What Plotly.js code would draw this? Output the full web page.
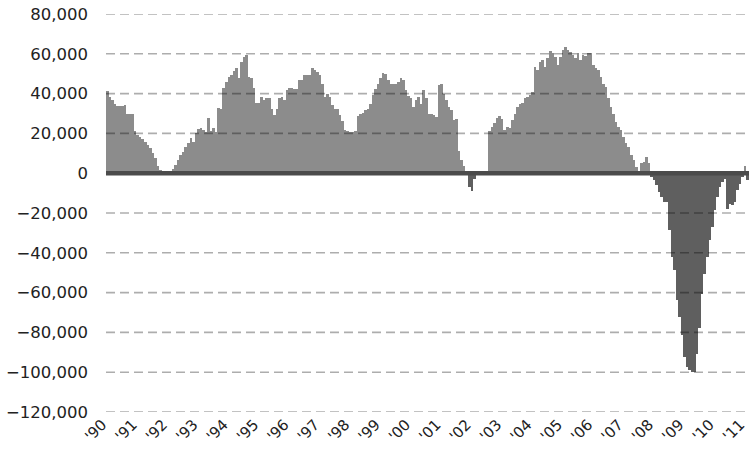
<!DOCTYPE html>
<html>
<head>
<meta charset="utf-8">
<script src="https://cdn.plot.ly/plotly-3.0.1.min.js"></script>
<style>
  html, body { margin: 0; padding: 0; background: #ffffff; overflow: hidden; }
  #chart { width: 749px; height: 456px; }
</style>
</head>
<body>
<div id="chart"></div>
<script>
// Monthly values, January 1990 onward
const monthlyValues = [
  41500, 38500, 37000, 35000, 34000, 34000, 34000, 34500, 30000, 30000, 30000, 21000,
  19000, 18000, 17000, 15500, 14000, 12500, 10000, 7500, 3500, 1500, -1000, 500,
  300, 500, 2000, 4000, 6500, 9000, 10500, 13000, 15000, 17500, 15500, 20000,
  22000, 22500, 21500, 20500, 27500, 21000, 22500, 20500, 33000, 32500, 43000, 46000,
  48500, 49500, 51500, 53000, 47700, 56000, 58500, 59500, 48500, 48000, 43000, 35500,
  35500, 38500, 37000, 38000, 37700, 32500, 29000, 32500, 37700, 38400, 36600, 42000,
  43000, 43000, 42500, 42500, 46800, 46800, 49300, 49300, 49500, 52700, 52000, 51000,
  49300, 45000, 38400, 40000, 38400, 34200, 32500, 32500, 29000, 26000, 21600, 21000,
  20800, 20500, 21000, 28500, 30000, 30500, 32000, 32500, 35000, 39200, 42500, 45000,
  48000, 50500, 50000, 46800, 45000, 45000, 45000, 46000, 48000, 46800, 41800, 39000,
  37700, 33400, 36600, 38400, 35000, 41800, 37700, 30000, 29500, 29000, 28400, 44300,
  45000, 40000, 36700, 33400, 31700, 26600, 27000, 11000, 6500, 3700, 500, -6900,
  -9000, -3000, 300, 800, -500, 800, 300, 21000, 23300, 25000, 27500, 28700,
  27000, 21600, 23300, 22500, 26600, 30000, 33400, 35000, 35400, 37600, 38400, 39200,
  41000, 53500, 51800, 56000, 56900, 53500, 57700, 61500, 60200, 58500, 54400, 58500,
  61900, 63600, 61900, 61000, 59400, 57700, 60200, 56900, 59400, 58900, 60200, 60200,
  54400, 52700, 51800, 48500, 45000, 43400, 37600, 33400, 30000, 25800, 23300, 21600,
  18300, 15000, 13300, 9100, 6500, 3200, 1000, 5200, 5700, 8200, 5000, -1800,
  -3500, -6000, -9400, -12000, -14400, -14400, -28700, -42000, -48800, -63900, -72300, -81500,
  -92400, -97400, -99000, -100000, -100000, -90700, -78000, -60500, -50500, -42000, -33700, -27000,
  -18600, -12000, -7000, -4400, -2700, -17800, -15300, -16000, -14400, -8600, -5200, -1800,
  3500, -3500
];

// Year tick labels (one per January)
const yearLabels = ["'90", "'91", "'92", "'93", "'94", "'95", "'96", "'97", "'98", "'99",
  "'00", "'01", "'02", "'03", "'04", "'05", "'06", "'07", "'08", "'09", "'10", "'11"];

// Y axis tick values
const yTicks = [-120000, -100000, -80000, -60000, -40000, -20000, 0, 20000, 40000, 60000, 80000];

const monthIndex = monthlyValues.map((_, i) => i);
const yearTickPositions = yearLabels.map((_, k) => k * 12);
const barColors = monthlyValues.map(v => v < 0 ? '#5f5f5f' : '#8c8c8c');

const trace = {
  type: 'bar',
  x: monthIndex,
  y: monthlyValues,
  marker: { color: barColors, line: { width: 0 } },
  hoverinfo: 'skip'
};

// dashed gridlines drawn above the bars (semi-transparent, as in the reference)
const gridShapes = yTicks.filter(v => v !== 0).map(v => ({
  type: 'line', xref: 'paper', yref: 'y', x0: 0, x1: 1, y0: v, y1: v,
  layer: 'above',
  line: { color: 'rgba(0,0,0,0.32)', width: 1.6, dash: '9px,5px' }
}));
const zeroShape = {
  type: 'line', xref: 'paper', yref: 'y', x0: 0, x1: 1, y0: 0, y1: 0,
  layer: 'above',
  line: { color: '#4b4b4b', width: 4.5 }
};

const fontFamily = '"DejaVu Sans", Verdana, sans-serif';

const layout = {
  width: 749,
  height: 456,
  margin: { l: 106, r: 0, t: 14, b: 44, pad: 0 },
  paper_bgcolor: '#ffffff',
  plot_bgcolor: '#ffffff',
  bargap: 0,
  showlegend: false,
  font: { family: fontFamily, color: '#222222', size: 16 },
  shapes: gridShapes.concat([zeroShape]),
  xaxis: {
    range: [-0.5, 253.5],
    tickmode: 'array',
    tickvals: yearTickPositions,
    ticktext: yearLabels,
    tickangle: -45,
    ticklabeloverflow: 'allow',
    ticklabelshift: -5,
    showgrid: false,
    zeroline: false,
    showline: false,
    ticks: '',
    tickfont: { family: fontFamily, size: 15, color: '#222222' },
    fixedrange: true
  },
  yaxis: {
    range: [-120000, 80000],
    tickmode: 'array',
    tickvals: yTicks,
    tickformat: ',d',
    showgrid: false,
    zeroline: false,
    showline: false,
    ticks: '',
    ticklabelstandoff: 17,
    tickfont: { family: fontFamily, size: 16.5, color: '#222222' },
    fixedrange: true
  }
};

Plotly.newPlot('chart', [trace], layout, { displayModeBar: false, staticPlot: true });
</script>
</body>
</html>
